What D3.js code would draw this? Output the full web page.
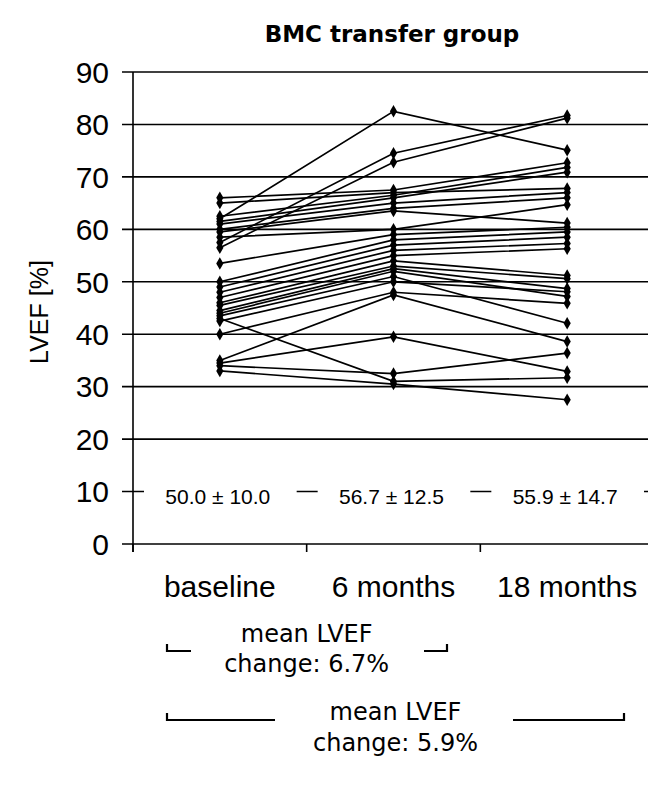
<!DOCTYPE html>
<html><head><meta charset="utf-8">
<script src="https://cdn.jsdelivr.net/npm/d3@7"></script>
<style>body{margin:0;background:#fff}</style>
</head><body>
<svg id="c" width="648" height="785"></svg>
<script>
const categories = ["baseline", "6 months", "18 months"];
const baseline = [62, 57.5, 56.5, 66, 65, 62.5, 61.5, 61, 60, 59.5, 58.5, 53.5, 50, 49, 48, 47, 46, 45.5, 44.5, 44, 43.5, 42.5, 40, 43, 35, 34.5, 34, 33];
const month6   = [82.5, 74.5, 72.8, 67.5, 67, 66.5, 66, 65, 64, 63.5, 60, 59, 58, 57, 56, 55, 54, 53, 52.5, 52, 51, 50, 48, 31, 47.5, 39.5, 32.5, 30.5];
const month18  = [75.1, 81.7, 81.2, 72.7, 67.8, 71.8, 70.9, 67, 66, 61.2, 64.7, 60.4, 59.5, 58.5, 57.3, 56.3, 51.2, 50.6, 48.7, 47.2, 42.1, 48.1, 45.9, 31.7, 38.6, 32.9, 36.4, 27.5];
const meanLabels = ["50.0 \u00b1 10.0", "56.7 \u00b1 12.5", "55.9 \u00b1 14.7"];
const yTicks = [0, 10, 20, 30, 40, 50, 60, 70, 80, 90];
const changeLabels = [["mean LVEF", "change: 6.7%"], ["mean LVEF", "change: 5.9%"]];

(function () {
const svg = d3.select("#c");
const pL = 133, pR = 654, pT = 72, pB = 544;
const x = d3.scaleBand().domain(categories).range([pL, pR]);
const y = d3.scaleLinear().domain([0, 90]).range([pB, pT]);
const arial = "'Liberation Sans', Arial, sans-serif";
const verd = "'DejaVu Sans', Verdana, sans-serif";
const cen = c => x(c) + x.bandwidth() / 2;

svg.append("text").attr("x", 392).attr("y", 42).attr("text-anchor", "middle")
  .attr("font-family", verd).attr("font-weight", "bold").attr("font-size", 23)
  .text("BMC transfer group");

svg.append("g").selectAll("line").data(yTicks).join("line")
  .attr("x1", pL - 11).attr("x2", 648)
  .attr("y1", d => y(d)).attr("y2", d => y(d))
  .attr("stroke", "#000").attr("stroke-width", 1.6);

svg.append("line").attr("x1", pL).attr("x2", pL).attr("y1", y(90)).attr("y2", y(0) + 8)
  .attr("stroke", "#000").attr("stroke-width", 1.6);

svg.append("g").selectAll("line").data(categories).join("line")
  .attr("x1", d => x(d)).attr("x2", d => x(d))
  .attr("y1", y(0)).attr("y2", y(0) + 8)
  .attr("stroke", "#000").attr("stroke-width", 1.6);

svg.append("g").selectAll("text").data(yTicks).join("text")
  .attr("x", 109).attr("y", d => y(d)).attr("dy", "0.36em")
  .attr("text-anchor", "end").attr("font-family", arial).attr("font-size", 30)
  .text(d => d);

svg.append("text").attr("transform", `translate(48,${y(45) + 4}) rotate(-90)`)
  .attr("text-anchor", "middle").attr("font-family", arial).attr("font-size", 25)
  .text("LVEF [%]");

svg.append("g").selectAll("text").data(categories).join("text")
  .attr("x", d => cen(d)).attr("y", 597)
  .attr("text-anchor", "middle").attr("font-family", arial).attr("font-size", 30)
  .text(d => d);

const mg = svg.append("g");
mg.selectAll("rect").data(categories).join("rect")
  .attr("x", d => x(d) + 11).attr("width", x.bandwidth() - 21)
  .attr("y", y(10) - 13).attr("height", 28).attr("fill", "#fff");
mg.selectAll("text").data(categories).join("text")
  .attr("x", d => cen(d) - 2).attr("y", y(10) + 5).attr("dy", "0.36em")
  .attr("text-anchor", "middle").attr("font-family", arial).attr("font-size", 21)
  .text((d, i) => meanLabels[i]);

const patients = baseline.map((b, i) => [b, month6[i], month18[i]]);
const line = d3.line().x((d, i) => cen(categories[i])).y(d => y(d));
svg.append("g").selectAll("path").data(patients).join("path")
  .attr("d", line).attr("fill", "none").attr("stroke", "#000").attr("stroke-width", 1.7);
const pts = patients.flatMap(p => p.map((v, i) => ({v, i})));
svg.append("g").selectAll("path").data(pts).join("path")
  .attr("d", d3.symbol(d3.symbolDiamond, 45))
  .attr("transform", d => `translate(${cen(categories[d.i])},${y(d.v)})`)
  .attr("fill", "#000");

const bg = svg.append("g").attr("stroke", "#000").attr("stroke-width", 2.2).attr("fill", "none");
const brk = [
  {l1: 167, l2: 191, r1: 424, r2: 447, by: 651, ty: [633, 663], cx: (cen(categories[0]) + cen(categories[1])) / 2},
  {l1: 167, l2: 275, r1: 513, r2: 624, by: 720, ty: [711, 742], cx: cen(categories[1]) + 2}
];
brk.forEach((b, k) => {
  bg.append("path").attr("d", `M${b.l1},${b.by - 7}V${b.by}H${b.l2}`);
  bg.append("path").attr("d", `M${b.r1},${b.by}H${b.r2}V${b.by - 7}`);
  changeLabels[k].forEach((t, j) => {
    svg.append("text").attr("x", b.cx).attr("y", b.ty[j]).attr("dy", "0.36em")
      .attr("text-anchor", "middle").attr("font-family", verd).attr("font-size", 24)
      .text(t);
  });
});
})();
</script>
</body></html>
